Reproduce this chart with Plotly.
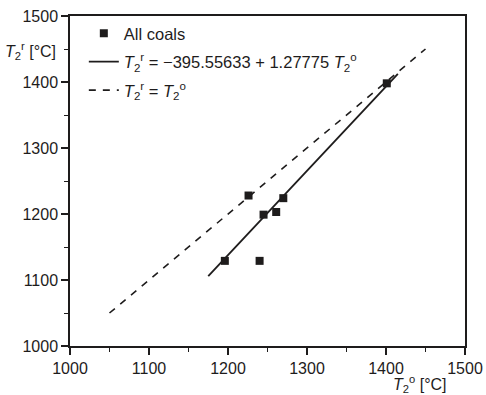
import plotly.graph_objects as go

# Measured vs. predicted second characteristic temperature
t2_observed = [1196, 1226, 1245, 1261, 1270, 1240, 1401]
t2_predicted = [1129, 1228, 1199, 1203, 1224, 1129, 1398]

# Linear fit coefficients and ranges of the two reference lines
fit_intercept = -395.55633
fit_slope = 1.27775
fit_x = [1175, 1415]
identity_x = [1050, 1450]

ink = "#1e1c1c"
font = dict(family="Liberation Sans, Arial, sans-serif", size=16, color=ink)

fig = go.Figure()
fig.add_trace(go.Scatter(
    x=t2_observed, y=t2_predicted, mode="markers", name="All coals",
    legendgroup="data",
    marker=dict(symbol="square", size=8, color=ink),
))
fig.add_trace(go.Scatter(
    x=fit_x, y=[fit_intercept + fit_slope * v for v in fit_x], mode="lines",
    name="<i>T</i><sub>2</sub><sup>r</sup> = \u2212395.55633 + 1.27775 <i>T</i><sub>2</sub><sup>o</sup>",
    legendgroup="fit",
    line=dict(color=ink, width=1.8),
))
fig.add_trace(go.Scatter(
    x=identity_x, y=identity_x, mode="lines",
    name="<i>T</i><sub>2</sub><sup>r</sup> = <i>T</i><sub>2</sub><sup>o</sup>",
    legendgroup="identity",
    line=dict(color=ink, width=1.6, dash="7px,7px"),
))

axis_common = dict(
    range=[1000, 1500], dtick=100, showgrid=False, zeroline=False,
    showline=True, linecolor=ink, linewidth=1.5, mirror=True,
    ticks="outside", ticklen=7, tickwidth=1.5, tickcolor=ink,
    minor=dict(ticks="outside", dtick=50, ticklen=4, tickwidth=1.2, tickcolor=ink),
    tickfont=font, automargin=False,
)

fig.update_layout(
    width=486, height=395,
    margin=dict(l=70, r=21, t=16, b=49),
    plot_bgcolor="white", paper_bgcolor="white",
    font=font,
    xaxis=axis_common,
    yaxis=axis_common,
    showlegend=True,
    legend=dict(x=0.035, y=1.0, xanchor="left", yanchor="top",
                bgcolor="rgba(0,0,0,0)", font=dict(size=16.5), tracegroupgap=4),
    annotations=[
        dict(text="<i>T</i><sub>2</sub><sup>r</sup> [°C]", xref="paper", yref="paper",
             x=-0.03, y=0.895, xanchor="right", yanchor="middle",
             showarrow=False, font=font),
        dict(text="<i>T</i><sub>2</sub><sup>o</sup> [°C]", xref="paper", yref="paper",
             x=0.96, y=-0.075, xanchor="right", yanchor="top",
             showarrow=False, font=font),
    ],
)

fig.write_html("out.html")
